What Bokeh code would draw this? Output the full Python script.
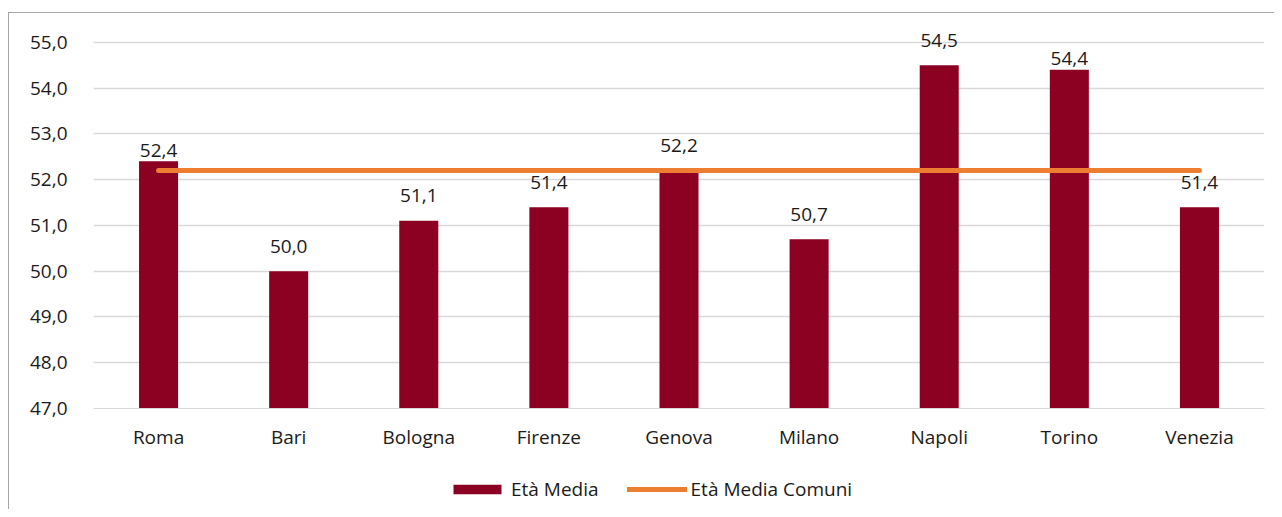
from bokeh.plotting import figure
from bokeh.layouts import column
from bokeh.models import (ColumnDataSource, FactorRange, Range1d, FixedTicker,
                          CustomJSTickFormatter, Legend, LegendItem, CDSView, IndexFilter)
from bokeh.embed import file_html
from bokeh.resources import INLINE
from bokeh.core.properties import value

# ---- data ----
cities = ["Roma", "Bari", "Bologna", "Firenze", "Genova", "Milano", "Napoli", "Torino", "Venezia"]
eta_media = [52.4, 50.0, 51.1, 51.4, 52.2, 50.7, 54.5, 54.4, 51.4]
eta_media_comuni = [52.2, 52.2, 52.2, 52.2, 52.2, 52.2, 52.2, 52.2, 52.2]
y_ticks = [47, 48, 49, 50, 51, 52, 53, 54, 55]
# labels that sit close to their bar top in the reference
close_label_cities = ["Roma", "Torino"]

BAR = "#8C0021"
ORANGE = "#ED7D31"
GRID = "#D9D9D9"
FONT = "Open Sans"
FS = "19px"
W = 1265

labels = [f"{v:.1f}".replace(".", ",") for v in eta_media]
src = ColumnDataSource(dict(x=cities, y=eta_media, lab=labels, avg=eta_media_comuni))
close_idx = [i for i, c in enumerate(cities) if c in close_label_cities]
far_idx = [i for i, c in enumerate(cities) if c not in close_label_cities]

# y range reaches a little above the top tick so the highest value label is not clipped
p = figure(x_range=FactorRange(*cities, range_padding=0), y_range=Range1d(47, 55.5),
           width=W, height=460, output_backend="svg", toolbar_location=None,
           min_border_left=84, min_border_right=10, min_border_top=6, min_border_bottom=65)
p.outline_line_color = None
p.background_fill_color = "white"
p.border_fill_color = "white"

bars = p.vbar(x="x", top="y", bottom=47, width=0.3, source=src, fill_color=BAR, line_color=None)
line = p.line(x="x", y="avg", source=src, line_color=ORANGE, line_width=5, line_cap="round")
for idx, dy in ((far_idx, -25), (close_idx, -11)):
    p.text(x="x", y="y", text="lab", source=src, view=CDSView(filter=IndexFilter(idx)),
           text_align="center", text_baseline="alphabetic", y_offset=dy,
           text_font=value(FONT), text_font_size=FS, text_color="#1a1a1a")

# axes
p.yaxis.ticker = FixedTicker(ticks=y_ticks)
p.yaxis.formatter = CustomJSTickFormatter(code="return tick.toFixed(1).replace('.', ',');")
p.yaxis.axis_line_color = None
p.yaxis.major_tick_line_color = None
p.yaxis.minor_tick_line_color = None
p.yaxis.major_tick_out = 0
p.yaxis.major_label_standoff = 26
p.xaxis.axis_line_color = GRID
p.xaxis.major_tick_line_color = None
p.xaxis.major_tick_out = 0
p.xaxis.major_label_standoff = 15
for ax in (p.xaxis, p.yaxis):
    ax.major_label_text_font = FONT
    ax.major_label_text_font_size = FS
    ax.major_label_text_color = "#1a1a1a"

p.xgrid.grid_line_color = None
p.ygrid.grid_line_color = GRID
p.ygrid.grid_line_width = 1.5
p.ygrid.ticker = FixedTicker(ticks=y_ticks)

# legend strip (separate figure so the legend is not clipped by the plot frame);
# its renderers are hidden, only their legend glyphs are shown
lf = figure(width=W, height=36, x_range=FactorRange(*cities, range_padding=0), y_range=Range1d(47, 55),
            output_backend="svg", toolbar_location=None,
            min_border=0, min_border_left=0, min_border_right=0, min_border_top=0, min_border_bottom=0)
lf.axis.visible = False
lf.grid.visible = False
lf.outline_line_color = None
lf.border_fill_color = "white"
lbar = lf.vbar(x="x", top="y", bottom=47, width=0.3, source=src, fill_color=BAR, line_color=None)
lline = lf.line(x="x", y="avg", source=src, line_color=ORANGE, line_width=5, line_cap="round")
lbar.visible = False
lline.visible = False

legend = Legend(items=[LegendItem(label="Età Media", renderers=[lbar]),
                       LegendItem(label="Età Media Comuni", renderers=[lline])],
                orientation="horizontal", location=(354, 7),
                glyph_width=60, glyph_height=12, label_standoff=4, spacing=28,
                padding=0, margin=0, border_line_color=None, background_fill_alpha=0,
                inactive_fill_alpha=0,
                label_text_font=FONT, label_text_font_size=FS, label_text_color="#1a1a1a")
lf.add_layout(legend, "center")

layout = column(p, lf, spacing=0, margin=(12, 0, 0, 8),
                styles={"border-top": "1px solid #A6A6A6", "border-left": "1px solid #A6A6A6"})

open("out.html", "w").write(file_html(layout, INLINE))
